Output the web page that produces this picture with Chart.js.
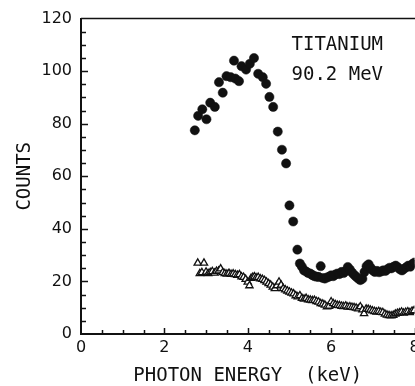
<!DOCTYPE html>
<html>
<head>
<meta charset="utf-8">
<script src="https://cdn.jsdelivr.net/npm/chart.js@4.4.0/dist/chart.umd.min.js"></script>
<style>
  html, body { margin: 0; padding: 0; background: #fff; overflow: hidden; }
  canvas { display: block; }
</style>
</head>
<body>
<canvas id="spectrum" width="440" height="386"></canvas>
<script>
// filled circles (upper spectrum)
const circleEnergy = [
  2.73, 2.81, 2.91, 3.01, 3.10, 3.21, 3.31, 3.40, 3.49, 3.59, 3.67, 3.70, 3.79, 3.85, 3.96,
  4.05, 4.15, 4.25, 4.36, 4.44, 4.52, 4.61, 4.72, 4.82, 4.92, 5.00, 5.09, 5.19, 5.25,
  5.30, 5.35, 5.40, 5.45, 5.50, 5.55, 5.60, 5.65, 5.70, 5.75, 5.80, 5.85, 5.90, 5.95,
  6.00, 6.05, 6.10, 6.15, 6.20, 6.25, 6.30, 6.35, 6.40, 6.45, 6.50, 6.55, 6.60, 6.65,
  6.70, 6.75, 6.80, 6.85, 6.90, 6.95, 7.00, 7.05, 7.10, 7.15, 7.20, 7.25, 7.30, 7.35,
  7.40, 7.45, 7.50, 7.55, 7.60, 7.65, 7.70, 7.75, 7.80, 7.85, 7.90, 7.95, 8.00
];
const circleCounts = [
  77.5, 83.0, 85.5, 81.7, 88.0, 86.4, 95.8, 91.8, 98.1, 97.7, 104.0, 97.2, 96.2, 101.9, 100.6,
  102.8, 105.0, 99.0, 97.7, 95.2, 90.2, 86.4, 77.0, 70.1, 64.9, 48.9, 42.8, 32.1, 26.8,
  25.6, 24.2, 23.8, 23.2, 23.0, 22.4, 22.0, 21.8, 21.7, 25.8, 21.3, 21.1, 21.5, 21.8,
  22.3, 22.0, 22.6, 23.0, 22.8, 23.6, 23.2, 24.0, 25.5, 24.5, 23.4, 22.5, 21.8, 21.1,
  20.5, 21.0, 23.6, 25.8, 26.5, 25.2, 24.2, 23.6, 24.0, 23.5, 23.8, 24.2, 24.0, 24.6,
  25.2, 25.0, 25.6, 26.0, 25.4, 24.6, 24.2, 24.8, 25.4, 26.0, 25.6, 26.6, 27.2
];

// open triangles (lower spectrum)
const triangleEnergy = [
  2.80, 2.85, 2.90, 2.95, 3.00, 3.05, 3.10, 3.15, 3.20, 3.25, 3.30, 3.35, 3.40, 3.45, 3.50,
  3.55, 3.60, 3.65, 3.70, 3.75, 3.80, 3.85, 3.90, 3.95, 4.00, 4.04, 4.08, 4.12, 4.16, 4.20,
  4.25, 4.30, 4.35, 4.40, 4.45, 4.50, 4.55, 4.60, 4.65, 4.70, 4.75, 4.80, 4.85, 4.90, 4.95,
  5.00, 5.05, 5.10, 5.15, 5.20, 5.25, 5.30, 5.35, 5.40, 5.45, 5.50, 5.55, 5.60, 5.65, 5.70,
  5.75, 5.80, 5.85, 5.90, 5.95, 6.00, 6.05, 6.10, 6.15, 6.20, 6.25, 6.30, 6.35, 6.40, 6.45,
  6.50, 6.55, 6.60, 6.65, 6.70, 6.75, 6.79, 6.84, 6.89, 6.94, 6.99, 7.04, 7.09, 7.14, 7.19,
  7.24, 7.29, 7.34, 7.39, 7.44, 7.49, 7.54, 7.59, 7.64, 7.69, 7.74, 7.79, 7.84, 7.89, 7.94,
  7.99
];
const triangleCounts = [
  27.0, 23.0, 23.4, 27.0, 23.6, 23.0, 23.4, 23.8, 23.2, 23.9, 24.0, 24.8, 23.4, 23.0, 22.8,
  23.1, 22.7, 22.9, 22.6, 22.4, 22.6, 21.8, 21.6, 20.8, 19.8, 18.4, 21.2, 21.6, 21.8, 21.4,
  21.6, 21.0, 20.8, 20.4, 19.8, 19.2, 18.6, 17.9, 17.3, 18.4, 19.8, 18.6, 17.3, 16.8, 16.4,
  16.0, 15.6, 15.3, 14.6, 14.2, 14.6, 13.6, 13.3, 13.6, 13.0, 12.9, 12.7, 12.8, 12.4, 12.2,
  11.6, 11.4, 11.0, 10.4, 10.6, 12.3, 11.6, 11.2, 10.9, 10.8, 10.6, 10.5, 10.7, 10.3, 10.4,
  10.2, 10.1, 9.9, 9.6, 10.4, 9.2, 7.8, 9.5, 9.4, 9.1, 8.8, 8.6, 8.4, 8.6, 8.3,
  8.2, 7.6, 7.2, 7.0, 6.9, 7.1, 7.6, 7.9, 8.1, 8.4, 8.0, 8.3, 8.5, 8.2, 8.7,
  8.9
];

const xTickValues = [0, 2, 4, 6, 8];
const yTickValues = [0, 20, 40, 60, 80, 100, 120];
const labelLines = ['TITANIUM', '90.2 MeV'];

const ink = '#111';
const monoFont = '"DejaVu Sans Mono", monospace';

// inward tick marks, top frame line and the element label
const frameTicks = {
  id: 'frameTicks',
  afterDraw(chart) {
    const { ctx, chartArea: a, scales: { x, y } } = chart;
    ctx.save();
    ctx.strokeStyle = ink;
    ctx.lineWidth = 1.5;
    ctx.beginPath();
    ctx.moveTo(a.left, a.top);
    ctx.lineTo(a.right + 30, a.top);
    ctx.stroke();

    ctx.beginPath();
    for (let i = 1; i <= 16; i++) {
      const px = Math.round(x.getPixelForValue(i * 0.5)) + 0.5;
      const len = i % 4 === 0 ? 6 : 4;
      ctx.moveTo(px, a.bottom);
      ctx.lineTo(px, a.bottom - len);
    }
    for (let i = 1; i < 24; i++) {
      const py = Math.round(y.getPixelForValue(i * 5)) + 0.5;
      const len = i % 4 === 0 ? 7 : 5;
      ctx.moveTo(a.left, py);
      ctx.lineTo(a.left + len, py);
    }
    ctx.stroke();

    ctx.fillStyle = ink;
    ctx.font = '19px ' + monoFont;
    ctx.textBaseline = 'middle';
    ctx.fillText(labelLines[0], x.getPixelForValue(5.05), y.getPixelForValue(109.8));
    ctx.fillText(labelLines[1], x.getPixelForValue(5.05), y.getPixelForValue(98.5));
    ctx.restore();
  }
};

new Chart(document.getElementById('spectrum'), {
  type: 'scatter',
  data: {
    datasets: [
      {
        label: 'triangles',
        data: triangleEnergy.map((e, i) => ({ x: e, y: triangleCounts[i] })),
        pointStyle: 'triangle',
        pointRadius: 4.2,
        pointBorderWidth: 1.3,
        pointBorderColor: ink,
        pointBackgroundColor: '#fff'
      },
      {
        label: 'circles',
        data: circleEnergy.map((e, i) => ({ x: e, y: circleCounts[i] })),
        pointStyle: 'circle',
        pointRadius: 4.6,
        pointBorderWidth: 0.5,
        pointBorderColor: ink,
        pointBackgroundColor: ink
      }
    ]
  },
  options: {
    responsive: false,
    animation: false,
    devicePixelRatio: 1,
    layout: { padding: { left: 0, right: 25.5, top: 17.5, bottom: 0 } },
    plugins: {
      legend: { display: false },
      tooltip: { enabled: false }
    },
    scales: {
      x: {
        type: 'linear',
        min: 0,
        max: 8,
        afterBuildTicks: s => { s.ticks = xTickValues.map(v => ({ value: v })); },
        afterFit: s => { s.height = 52; },
        grid: { display: false, drawTicks: false },
        border: { color: ink, width: 2 },
        ticks: {
          color: ink,
          padding: 4,
          maxRotation: 0,
          font: { family: '"DejaVu Sans"', size: 16 }
        },
        title: {
          display: true,
          text: 'PHOTON ENERGY  (keV)',
          color: ink,
          padding: 0,
          font: { family: monoFont, size: 19, lineHeight: 1 }
        }
      },
      y: {
        min: 0,
        max: 120,
        afterBuildTicks: s => { s.ticks = yTickValues.map(v => ({ value: v })); },
        afterFit: s => { s.width = 81; },
        grid: { display: false, drawTicks: false },
        border: { color: ink, width: 2 },
        ticks: {
          color: ink,
          padding: 9,
          font: { family: '"DejaVu Sans"', size: 16 }
        },
        title: {
          display: true,
          text: 'COUNTS',
          color: ink,
          padding: { top: 15.5, bottom: 0 },
          font: { family: monoFont, size: 19, lineHeight: 1 }
        }
      }
    }
  },
  plugins: [frameTicks]
});
</script>
</body>
</html>
